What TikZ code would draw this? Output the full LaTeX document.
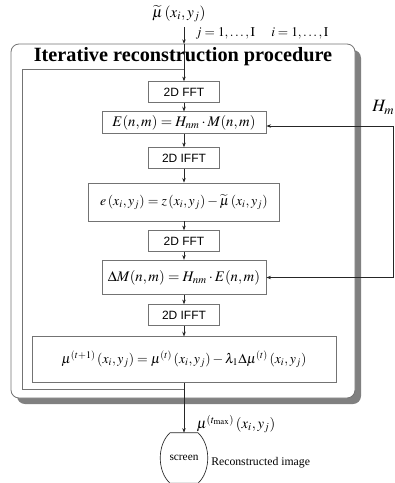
\documentclass[tikz,border=0pt]{standalone}
\usepackage{mathptmx}
\usepackage[no-math]{fontspec}
\setmainfont{Liberation Serif}
\setsansfont{Liberation Sans}
\usetikzlibrary{positioning, arrows.meta, calc}

\definecolor{boxgray}{gray}{0.45}
\definecolor{shadowgray}{gray}{0.5}

\begin{document}
\begin{tikzpicture}[x=0.75pt, y=-0.75pt,
	>={Stealth[length=3.5pt, width=2.6pt]},
	stepbox/.style={draw=boxgray, line width=0.6pt, fill=white, inner sep=0pt,
		font=\sffamily\fontsize{9}{10}\selectfont, minimum width=53pt, minimum height=15.5pt},
	formula/.style={draw=boxgray, line width=0.6pt, fill=white, inner sep=0pt,
		font=\fontsize{11}{13}\selectfont},
	flow/.style={->, line width=0.5pt, draw=black!85}]
		
		\useasboundingbox (0,0) rectangle (395,483);
		
		% Parámetros del marco (en px)
		\def\Xc{184}        % Eje vertical del flujo
		\def\Rc{6pt}        % Radio de las esquinas
		
		% --- 1. MARCO CON SOMBRA ---
		\fill[shadowgray, rounded corners=\Rc] (17,50) rectangle (361,404);
		\draw[boxgray, line width=0.6pt, fill=white, rounded corners=\Rc] (11,44) rectangle (355,398);
		\node[font=\bfseries\fontsize{15.2}{17}\selectfont] (title) at (183,57) {Iterative reconstruction procedure};
		
		% Lazo interior de iteración
		\draw[boxgray, line width=0.6pt] (\Xc,69) -| (22,389) -- (\Xc,389);
		
		% --- 2. ENTRADA ---
		\node[font=\fontsize{11.5}{13}\selectfont] (mu0) at (179,14) {$\widetilde{\mu}\left(x_i, y_j\right)$};
		\node[font=\fontsize{10}{12}\selectfont] (range) at (262,33) {$j = 1,\ldots,\mathrm{I}\quad\; i = 1,\ldots,\mathrm{I}$};
		\coordinate (entry) at (\Xc,44);
		
		% --- 3. BLOQUES DEL PROCEDIMIENTO ---
		\node[stepbox] (fft1) at (\Xc,92) {2D FFT};
		\node[formula, minimum width=123pt, minimum height=16pt] (ebox) at (\Xc,122.5)
			{$E(n, m) = H_{nm}\cdot M(n, m)$};
		\node[stepbox] (ifft1) at (\Xc,158) {2D IFFT};
		\node[formula, minimum width=143pt, minimum height=28.5pt, font=\fontsize{10.3}{12}\selectfont] (errbox) at (\Xc,202)
			{$e\left(x_i, y_j\right) = z\left(x_i, y_j\right) - \widetilde{\mu}\left(x_i, y_j\right)$};
		\node[stepbox] (fft2) at (\Xc,241) {2D FFT};
		\node[formula, minimum width=123pt, minimum height=26pt] (dmbox) at (\Xc,277.5)
			{$\Delta M(n, m) = H_{nm}\cdot E(n, m)$};
		\node[stepbox] (ifft2) at (\Xc,315) {2D IFFT};
		\node[formula, minimum width=228pt, minimum height=34pt, font=\fontsize{10.3}{12}\selectfont] (mubox) at (\Xc,359.5)
			{$\mu^{(t+1)}\left(x_i, y_j\right) = \mu^{(t)}\left(x_i, y_j\right) - \lambda_1 \Delta\mu^{(t)}\left(x_i, y_j\right)$};
		
		% --- 4. SALIDA ---
		\node[minimum width=36pt, minimum height=37.5pt, inner sep=0pt,
			font=\fontsize{8.5}{10}\selectfont] (screen) at (\Xc,458) {screen};
		\draw[black!85, line width=0.5pt] ($(screen.north)+(-14,0)$) -- ($(screen.north)+(14,0)$)
			.. controls ($(screen.north)+(27,12)$) and ($(screen.south)+(27,-12)$) .. ($(screen.south)+(14,0)$)
			-- ($(screen.south)+(-14,0)$)
			.. controls ($(screen.south)+(-27,-12)$) and ($(screen.north)+(-27,12)$) .. cycle;
		\node[anchor=west, inner sep=0pt, font=\fontsize{8.8}{10}\selectfont] (recon) at (211,463) {Reconstructed image};
		\node[font=\fontsize{11}{13}\selectfont] (tmax) at (236,424) {$\mu^{(t_{\max})}\left(x_i, y_j\right)$};
		
		% --- 5. CONEXIONES ---
		\draw[flow] (mu0.south -| entry) -- (entry);
		\draw[flow] (entry) -- (fft1);
		\foreach \a/\b in {fft1/ebox, ebox/ifft1, ifft1/errbox, errbox/fft2, fft2/dmbox, dmbox/ifft2, ifft2/mubox, mubox/screen}
			\draw[flow] (\a) -- (\b);
		
		% Respuesta del sistema H_m
		\coordinate (hm) at (393,126);
		\node[anchor=south west, inner sep=0pt, font=\fontsize{13}{15}\selectfont] (hlabel) at (372,115) {$H_m$};
		\draw[flow] (hm) -- (hm -| ebox.east);
		\draw[flow] (hm) |- (dmbox.east);
		
	\end{tikzpicture}
\end{document}
